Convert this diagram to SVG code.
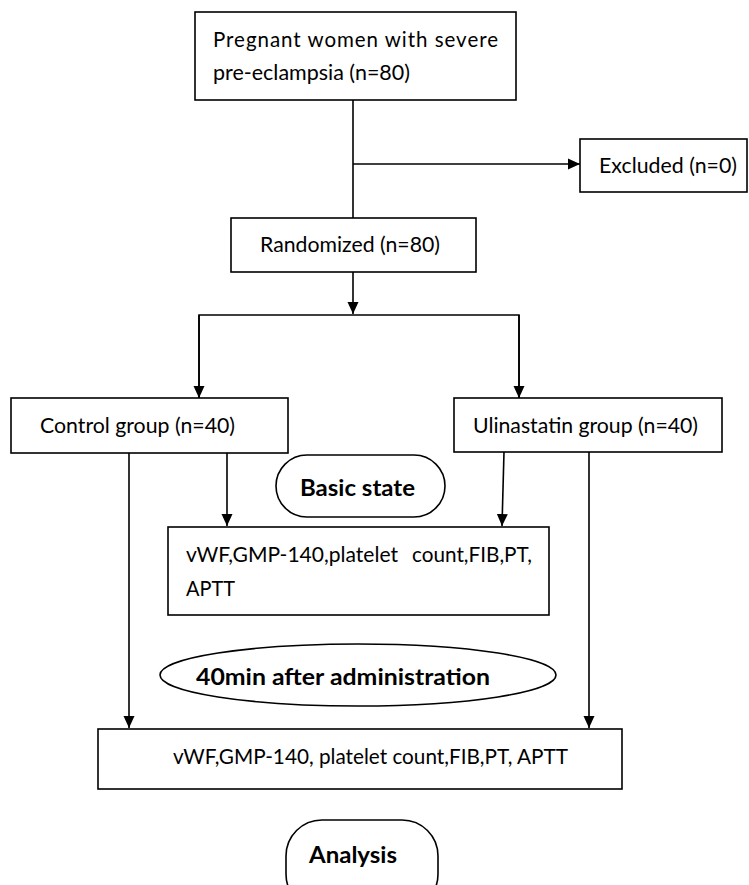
<svg xmlns="http://www.w3.org/2000/svg" width="749" height="885" viewBox="0 0 749 885">
<defs>
<marker id="arr" markerUnits="userSpaceOnUse" markerWidth="12" markerHeight="12" refX="12" refY="6" orient="auto">
<path d="M0,0.5 L12,6 L0,11.5 z" fill="#000"/>
</marker>
<style>
.box{fill:#fff;stroke:#000;stroke-width:1.6}
.t{font-family:Lato,"Liberation Sans",Arial,sans-serif;font-size:20.5px;fill:#000}
.b{font-family:Lato,"Liberation Sans",Arial,sans-serif;font-size:23px;font-weight:bold;fill:#000}
.c{fill:none;stroke:#000;stroke-width:1.6}
.a{marker-end:url(#arr)}
</style>
</defs>
<rect width="749" height="885" fill="#fff"/>
<g id="connectors">
<line class="c" x1="353" y1="100" x2="353" y2="218"/>
<line class="c a" x1="353" y1="164" x2="580" y2="164"/>
<line class="c a" x1="353" y1="272" x2="353" y2="314"/>
<polyline class="c" points="199,398 199,315 519,315 519,398"/>
<line class="c a" x1="199" y1="315" x2="199" y2="398"/>
<line class="c a" x1="519" y1="315" x2="519" y2="398"/>
<line class="c a" x1="129" y1="453" x2="129" y2="728"/>
<line class="c a" x1="227" y1="453" x2="227" y2="526"/>
<line class="c a" x1="504" y1="452" x2="502" y2="526"/>
<line class="c a" x1="589" y1="452" x2="589" y2="728"/>
</g>
<g id="n1">
<rect class="box" x="195" y="12" width="321" height="88"/>
<text class="t" x="213" y="47" textLength="285" lengthAdjust="spacing">Pregnant women with severe</text>
<text class="t" x="213" y="80" textLength="197" lengthAdjust="spacingAndGlyphs">pre-eclampsia (n=80)</text>
</g>
<g id="n2">
<rect class="box" x="580" y="139" width="167" height="53"/>
<text class="t" x="599" y="173" textLength="138" lengthAdjust="spacingAndGlyphs">Excluded (n=0)</text>
</g>
<g id="n3">
<rect class="box" x="231" y="218" width="245" height="54"/>
<text class="t" x="260" y="252" textLength="180" lengthAdjust="spacingAndGlyphs">Randomized (n=80)</text>
</g>
<g id="n4">
<rect class="box" x="11" y="398" width="277" height="55"/>
<text class="t" x="40" y="433" textLength="195" lengthAdjust="spacingAndGlyphs">Control group (n=40)</text>
</g>
<g id="n5">
<rect class="box" x="454" y="398" width="268" height="54"/>
<text class="t" x="473" y="433" textLength="225" lengthAdjust="spacingAndGlyphs">Ulinastatin group (n=40)</text>
</g>
<g id="n6">
<rect class="box" x="276" y="455" width="169" height="62" rx="31"/>
<text class="b" x="300" y="496" textLength="115" lengthAdjust="spacingAndGlyphs">Basic state</text>
</g>
<g id="n7">
<rect class="box" x="168" y="527" width="381" height="88"/>
<text class="t" x="186" y="562" textLength="212" lengthAdjust="spacingAndGlyphs">vWF,GMP-140,platelet</text>
<text class="t" x="412" y="562" textLength="120" lengthAdjust="spacingAndGlyphs">count,FIB,PT,</text>
<text class="t" x="186" y="596" textLength="49" lengthAdjust="spacingAndGlyphs">APTT</text>
</g>
<g id="n8">
<ellipse class="box" cx="358" cy="675" rx="198" ry="31"/>
<text class="b" x="196" y="685" textLength="294" lengthAdjust="spacingAndGlyphs">40min after administration</text>
</g>
<g id="n9">
<rect class="box" x="98" y="729" width="524" height="60"/>
<text class="t" x="173" y="764" textLength="395" lengthAdjust="spacingAndGlyphs">vWF,GMP-140, platelet count,FIB,PT, APTT</text>
</g>
<g id="n10">
<rect class="box" x="286" y="820" width="152" height="90" rx="36"/>
<text class="b" x="309" y="863" textLength="88" lengthAdjust="spacingAndGlyphs">Analysis</text>
</g>
</svg>
